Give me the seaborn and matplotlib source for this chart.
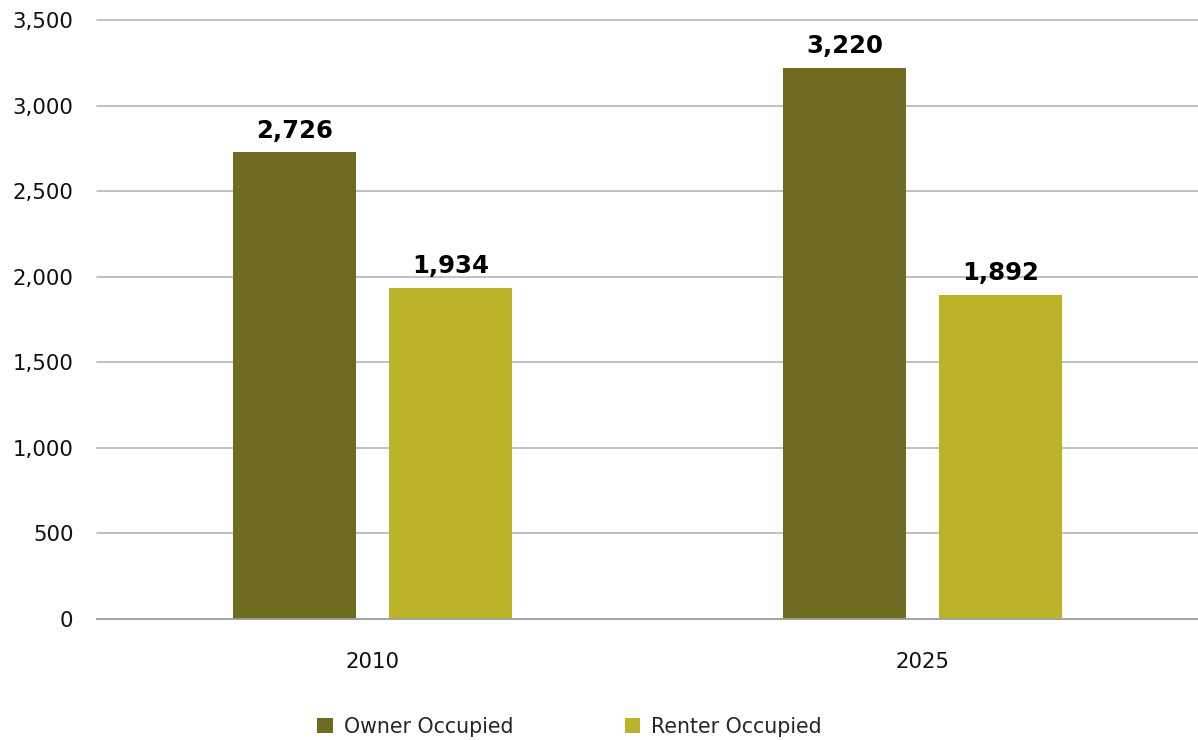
import matplotlib
matplotlib.use("Agg")
import matplotlib.pyplot as plt
import seaborn as sns
import pandas as pd
from matplotlib.patches import Patch
from matplotlib.ticker import FuncFormatter

years = ["2010", "2025"]
series = ["Owner Occupied", "Renter Occupied"]
owner = [2726, 3220]
renter = [1934, 1892]
colors = ["#6F6B20", "#BBB42A"]
yticks = [0, 500, 1000, 1500, 2000, 2500, 3000, 3500]

df = pd.DataFrame({
    "Year": years * 2,
    "Tenure": [series[0]] * 2 + [series[1]] * 2,
    "Units": owner + renter,
})

sns.set_theme(style="white")
plt.rcParams["font.family"] = ["DejaVu Sans"]

fig = plt.figure(figsize=(11.98, 7.40), dpi=100)
ax = fig.add_axes([0.081, 0.1635, 0.919, 0.8095])

sns.barplot(data=df, x="Year", y="Units", hue="Tenure", order=years,
            hue_order=series, palette=colors, width=0.567, gap=0.21,
            saturation=1, legend=False, ax=ax, errorbar=None, linewidth=0)

ax.set_ylim(0, 3500)
ax.set_xlim(-0.5, 1.5)
ax.set_yticks(yticks)
ax.yaxis.set_major_formatter(FuncFormatter(lambda v, p: f"{int(v):,}"))
ax.grid(axis="y", color="#B5B5B5", linewidth=1.2)
for gl in ax.get_ygridlines():
    gl.set_clip_on(False)
ax.set_axisbelow(True)
for s in ["left", "right", "top"]:
    ax.spines[s].set_visible(False)
ax.spines["bottom"].set_color("#A0A0A0")
ax.spines["bottom"].set_linewidth(1.2)
ax.tick_params(axis="y", length=0, pad=17, labelsize=15.3, labelcolor="#111111")
ax.tick_params(axis="x", length=0, pad=24, labelsize=15.3, labelcolor="#111111")
ax.set_xlabel("")
ax.set_ylabel("")

for cont in ax.containers:
    ax.bar_label(cont, fmt="{:,.0f}", padding=7, fontsize=17.6,
                 fontweight="bold", color="#000000")

handles = [Patch(facecolor=c, edgecolor="none") for c in colors]
fig.legend(handles, series, loc="center", bbox_to_anchor=(0.4755, 0.018),
           ncol=2, frameon=False, fontsize=14.8, handlelength=0.75,
           handleheight=0.75, handletextpad=0.55, columnspacing=5.4)

fig.savefig("out.png", dpi=100)
